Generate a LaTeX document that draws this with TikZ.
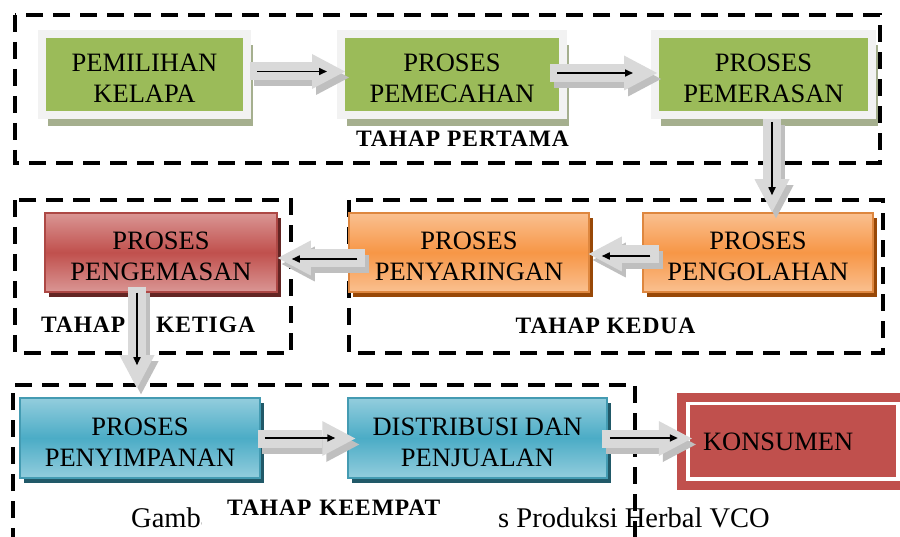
\documentclass[tikz,border=0pt]{standalone}
\usepackage{fontspec}
\setmainfont{Liberation Serif}
\usetikzlibrary{arrows.meta,calc,shadows}
\definecolor{grn}{HTML}{9BBB59}
\definecolor{grnframe}{HTML}{F2F2F2}
\definecolor{grnsh}{HTML}{A5AF8E}
\definecolor{orl}{HTML}{FAC090}
\definecolor{ord}{HTML}{F79646}
\definecolor{orsh}{HTML}{984807}
\definecolor{rdl}{HTML}{DA9694}
\definecolor{rdd}{HTML}{C0504D}
\definecolor{rdsh}{HTML}{632523}
\definecolor{bll}{HTML}{93CDDD}
\definecolor{bld}{HTML}{4BACC6}
\definecolor{blsh}{HTML}{215968}
\definecolor{arrgray}{HTML}{D9D9D9}
\definecolor{arrsh}{HTML}{BFBFBF}
\newcommand\lowln[1]{\raisebox{-4pt}[18pt][0pt]{#1}}
\begin{document}
\begin{tikzpicture}[x=1pt,y=-1pt,
  boxtext/.style={font=\fontsize{26.5}{31}\selectfont, align=center, inner sep=0pt, text=black},
  greenbox/.style={boxtext, fill=grn, draw=grnframe, line width=8pt, minimum height=81pt,
    drop shadow={shadow xshift=6pt, shadow yshift=-11pt, fill=grnsh, opacity=1}},
  gradbox/.style n args={3}{boxtext, top color=#1, bottom color=#1, middle color=#2,
    draw=#2!90!black, line width=1.5pt, minimum height=79pt,
    drop shadow={shadow xshift=3.5pt, shadow yshift=-5pt, fill=#3, opacity=1}},
  orbox/.style={gradbox={orl}{ord}{orsh}},
  rdbox/.style={gradbox={rdl}{rdd}{rdsh}},
  blbox/.style={gradbox={bll}{bld}{blsh}, minimum height=80pt},
  kbox/.style={boxtext, fill=rdd, align=left, text width=190pt, inner xsep=26pt, minimum height=97pt},
  lab/.style={font=\fontsize{23.5}{26}\bfseries\selectfont\addfontfeature{LetterSpace=4}, inner sep=0pt},
  capt/.style={font=\fontsize{28.5}{31}\selectfont, inner sep=0pt, anchor=base west},
  dbox/.style={draw=black, line width=3.5pt, dash pattern=on 17pt off 10pt},
  garrow/.style={draw=arrgray, line width=18pt, -{Triangle[length=33pt,width=35pt,line width=0pt]}},
  garrowsh/.style={garrow, draw=arrsh, transform canvas={shift={(4,6)}}},
  barrow/.style={draw=black, line width=1.6pt, -{Stealth[length=8pt,width=7pt,inset=0pt]}}
]
\useasboundingbox (0,0) rectangle (900,537);
\fill[white] (0,0) rectangle (900,537);

% caption (partly hidden)
\node[capt] (cap1) at (131,527) {Gamba};
\node[capt] (cap2) at (498,527) {s Produksi Herbal VCO};

% dashed group frames
\draw[dbox] (15,15) rectangle (880,163);
\draw[dbox] (15,200) rectangle (291,353);
\draw[dbox] (349,200) rectangle (883,353);
\draw[dbox] (13,545) -- (13,385) -- (635,385) -- (635,545);

% stage labels
\node[lab] (l1) at (462.5,139) {TAHAP PERTAMA};
\node[lab] (l3) at (148,325) {TAHAP\hspace{31pt}KETIGA};
\node[lab] (l2) at (605.5,326) {TAHAP KEDUA};
\node[lab, fill=white, text width=243pt, align=left, inner xsep=25pt, minimum height=48pt, anchor=west] (l4) at (202,508) {TAHAP KEEMPAT};

% boxes
\node[greenbox, minimum width=205pt] (pem) at (144.5,74.5) {\lowln{PEMILIHAN}\\\lowln{KELAPA}};
\node[greenbox, minimum width=222pt] (pec) at (452,74.5) {\lowln{PROSES}\\\lowln{PEMECAHAN}};
\node[greenbox, minimum width=217pt] (per) at (763.5,74.5) {\lowln{PROSES}\\\lowln{PEMERASAN}};

\node[rdbox, minimum width=232pt] (gng) at (161,252.5) {\lowln{PROSES}\\\lowln{PENGEMASAN}};
\node[orbox, minimum width=240pt] (gyr) at (469,252.5) {\lowln{PROSES}\\\lowln{PENYARINGAN}};
\node[orbox, minimum width=230pt] (gol) at (758,252.5) {\lowln{PROSES}\\\lowln{PENGOLAHAN}};

\node[blbox, minimum width=240pt] (sim) at (140,438) {\lowln{PROSES}\\\lowln{PENYIMPANAN}};
\node[blbox, minimum width=259pt] (dis) at (477.5,438) {\lowln{DISTRIBUSI DAN}\\\lowln{PENJUALAN}};

\node[kbox] (kon) at (798,441.5) {KONSUMEN};
\draw[white, line width=3.5pt] ($(kon.north west)+(11,10.5)$) rectangle ($(kon.south east)+(-21,-11)$);

% arrows
% A1
\draw[garrowsh] ($(pem.east)+(-1,-3)$) -- ($(pec.west)+(8,-3)$);
\draw[garrow] ($(pem.east)+(-1,-3)$) -- ($(pec.west)+(8,-3)$);
\draw[barrow] ($(pem.east)+(6,-3)$) -- ($(pec.west)+(-10,-3)$);
% A2
\draw[garrowsh] ($(pec.east)+(-17,-1.5)$) -- ($(per.west)+(6,-1.5)$);
\draw[garrow] ($(pec.east)+(-17,-1.5)$) -- ($(per.west)+(6,-1.5)$);
\draw[barrow] ($(pec.east)+(-10,-1.5)$) -- ($(per.west)+(-18,-1.5)$);
% A3
\draw[garrowsh] ($(per.south)+(8.5,0)$) -- ($(gol.north)+(14,0)$);
\draw[garrow] ($(per.south)+(8.5,0)$) -- ($(gol.north)+(14,0)$);
\draw[barrow] ($(per.south)+(8.5,3)$) -- ($(gol.north)+(14,-17)$);
% A4
\draw[garrowsh] ($(gol.west)+(17,1.5)$) -- ($(gyr.east)+(-1,1.5)$);
\draw[garrow] ($(gol.west)+(17,1.5)$) -- ($(gyr.east)+(-1,1.5)$);
\draw[barrow] ($(gol.west)+(8,3.5)$) -- ($(gyr.east)+(12,3.5)$);
% A5
\draw[garrowsh] ($(gyr.west)+(17,5.5)$) -- ($(gng.east)+(0,5.5)$);
\draw[garrow] ($(gyr.west)+(17,5.5)$) -- ($(gng.east)+(0,5.5)$);
\draw[barrow] ($(gyr.west)+(9,6.5)$) -- ($(gng.east)+(14,6.5)$);
% A6
\draw[garrowsh] ($(gng.south)+(-24,-6)$) -- ($(sim.north)+(-3,-9)$);
\draw[garrow] ($(gng.south)+(-24,-6)$) -- ($(sim.north)+(-3,-9)$);
\draw[barrow] ($(gng.south)+(-24,0)$) -- ($(sim.north)+(-3,-32)$);
% A7
\draw[garrowsh] ($(sim.east)+(-3,0.5)$) -- ($(dis.west)+(8,0.5)$);
\draw[garrow] ($(sim.east)+(-3,0.5)$) -- ($(dis.west)+(8,0.5)$);
\draw[barrow] ($(sim.east)+(4,0)$) -- ($(dis.west)+(-12,0)$);
% A8
\draw[garrowsh] ($(dis.east)+(-6,0.5)$) -- ($(kon.west)+(15,-3)$);
\draw[garrow] ($(dis.east)+(-6,0.5)$) -- ($(kon.west)+(15,-3)$);
\draw[barrow] ($(dis.east)+(2,0)$) -- ($(kon.west)+(1,-3.5)$);
\end{tikzpicture}
\end{document}
